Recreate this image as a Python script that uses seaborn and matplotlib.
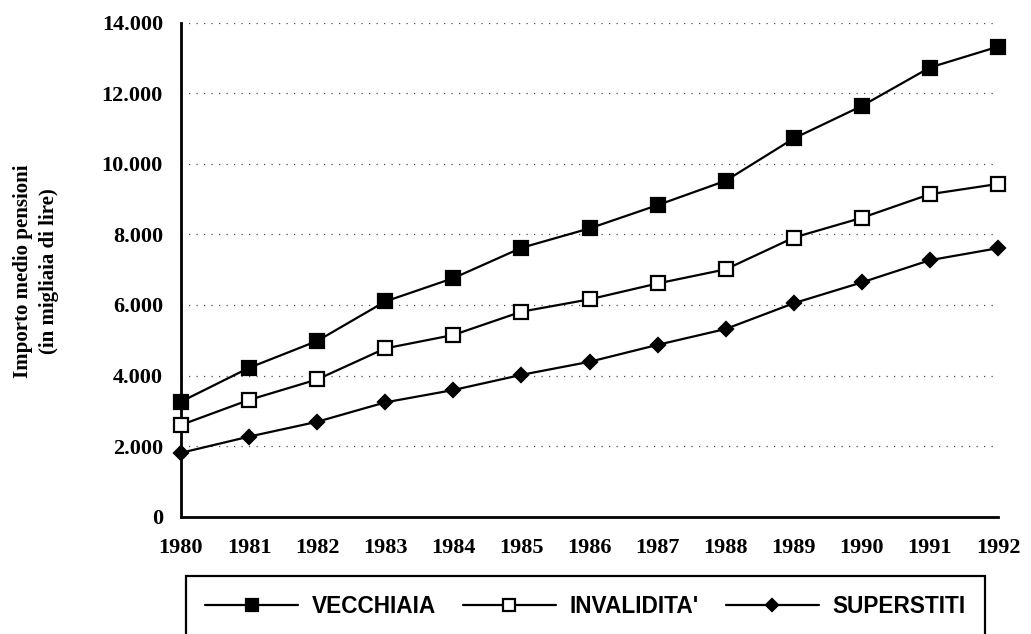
import matplotlib
matplotlib.use("Agg")
import matplotlib.pyplot as plt
from matplotlib.ticker import FuncFormatter, MultipleLocator
import seaborn as sns
import pandas as pd

years = [1980, 1981, 1982, 1983, 1984, 1985, 1986, 1987, 1988, 1989, 1990, 1991, 1992]
vecchiaia = [3260, 4220, 4980, 6100, 6760, 7620, 8170, 8830, 9520, 10720, 11640, 12730, 13320]
invalidita = [2600, 3310, 3890, 4770, 5150, 5810, 6160, 6610, 7010, 7910, 8470, 9140, 9430]
superstiti = [1810, 2270, 2690, 3240, 3590, 4020, 4390, 4870, 5320, 6050, 6640, 7270, 7610]
series_names = ["VECCHIAIA", "INVALIDITA'", "SUPERSTITI"]
y_label = "Importo medio pensioni\n(in migliaia di lire)"

sns.set_theme(style="white")
plt.rcParams["font.family"] = ["Liberation Serif", "DejaVu Serif"]
plt.rcParams["text.color"] = "black"

df = pd.DataFrame({
    "anno": years * 3,
    "valore": vecchiaia + invalidita + superstiti,
    "serie": [series_names[0]] * len(years) + [series_names[1]] * len(years) + [series_names[2]] * len(years),
})

fig = plt.figure(figsize=(10.31, 6.34), dpi=100)
ax = fig.add_axes([181 / 1031, 1 - 516.7 / 634, (998 - 181) / 1031, (516.7 - 22.7) / 634])

styles = {
    series_names[0]: dict(marker="s", markersize=9.5, markerfacecolor="black"),
    series_names[1]: dict(marker="s", markersize=9.5, markerfacecolor="white"),
    series_names[2]: dict(marker="D", markersize=7.5, markerfacecolor="black"),
}
for name in series_names:
    sub = df[df["serie"] == name]
    sns.lineplot(data=sub, x="anno", y="valore", ax=ax, color="black", linewidth=1.6,
                 markeredgecolor="black", markeredgewidth=1.6, label=name, clip_on=False,
                 zorder=5, **styles[name])

ax.set_xlim(1980, 1992)
ax.set_ylim(0, 14000)
ax.set_xticks(years)
ax.set_xticklabels([str(y) for y in years])
ax.yaxis.set_major_locator(MultipleLocator(2000))
ax.yaxis.set_major_formatter(FuncFormatter(lambda v, p: f"{v:,.0f}".replace(",", ".")))
ax.set_xlabel("")
ax.set_ylabel("")

for s in ["top", "right"]:
    ax.spines[s].set_visible(False)
for s in ["left", "bottom"]:
    ax.spines[s].set_color("black")
    ax.spines[s].set_linewidth(2.0)

ax.tick_params(axis="both", which="major", direction="inout", length=8, width=1.5,
               color="black", labelcolor="black")
ax.tick_params(axis="y", pad=9, labelsize=16)
ax.tick_params(axis="x", pad=11, labelsize=16)
for lab in ax.get_xticklabels() + ax.get_yticklabels():
    lab.set_fontweight("bold")
    lab.set_fontfamily(["Liberation Serif", "DejaVu Serif"])

ax.yaxis.grid(True, color="0.3", linestyle=(0, (1, 5)), linewidth=0.9)
ax.xaxis.grid(False)
ax.set_axisbelow(True)

fig.text(36 / 1031, 1 - 271 / 634, y_label, rotation=90, ha="center", va="center",
         multialignment="center", fontsize=15, fontweight="bold", linespacing=1.45,
         color="black", family=["Liberation Serif", "DejaVu Serif"])

ax.get_legend().remove()
handles, labels = ax.get_legend_handles_labels()
leg = fig.legend(handles, labels, loc="upper left", bbox_to_anchor=(186 / 1031, 1 - 576 / 634),
                 ncol=3, frameon=True, fancybox=False, shadow=False, handlelength=4.1,
                 handletextpad=0.6, columnspacing=1.2, borderpad=0.85, borderaxespad=0,
                 markerscale=0.85, labelcolor="black",
                 prop={"family": ["Liberation Sans", "DejaVu Sans"], "weight": "bold", "size": 16.3})
frame = leg.get_frame()
frame.set_edgecolor("black")
frame.set_linewidth(1.6)
frame.set_facecolor("white")
frame.set_alpha(1)

fig.savefig("out.png", dpi=100, facecolor="white")
